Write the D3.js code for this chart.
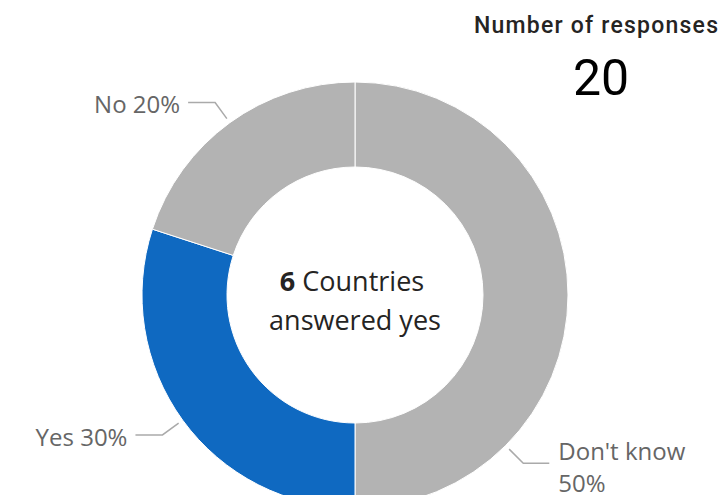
<!DOCTYPE html>
<html>
<head>
<meta charset="utf-8">
<script src="https://cdn.jsdelivr.net/npm/d3@7"></script>
<style>
  html, body { margin: 0; padding: 0; background: #fff; }
  svg { display: block; }
</style>
</head>
<body>
<svg id="chart"></svg>
<script>
// data
const categories = ["Don't know", "Yes", "No"];
const shares = [50, 30, 20];
const sliceColors = ["#b3b3b3", "#0f69c1", "#b3b3b3"];
const totalResponses = 20;
const countriesYes = 6;

const width = 726;
const height = 495;

const svg = d3.select("#chart")
  .attr("width", width)
  .attr("height", height);

// ---- donut ----
const cx = 355, cy = 295;
const outerR = 213, innerR = 128;

const g = svg.append("g").attr("transform", `translate(${cx},${cy})`);

const pie = d3.pie().sort(null).value(d => d.value);
const slices = pie(categories.map((c, i) => ({ name: c, value: shares[i], color: sliceColors[i] })));

const arc = d3.arc().innerRadius(innerR).outerRadius(outerR);

g.selectAll("path.slice")
  .data(slices)
  .join("path")
  .attr("class", "slice")
  .attr("d", arc)
  .attr("fill", d => d.data.color)
  .attr("stroke", "#fff")
  .attr("stroke-width", 1);

// ---- leader lines + labels ----
// the big right slice gets its label pushed down to the lower right
const labelAngle = d => d.data.name === "Don't know" ? Math.PI * 0.75 : (d.startAngle + d.endAngle) / 2;
const pt = (a, r) => [Math.sin(a) * r, -Math.cos(a) * r];

const labelColor = "#666666";
const labelFont = "'Open Sans', 'Noto Sans', sans-serif";

slices.forEach(d => {
  const a = labelAngle(d);
  const p1 = pt(a, 218);
  const p2 = pt(a, 238);
  const right = Math.sin(a) > 0;
  const p3 = [p2[0] + (right ? 26 : -27), p2[1]];

  g.append("polyline")
    .attr("points", [p1, p2, p3].map(p => p.join(",")).join(" "))
    .attr("fill", "none")
    .attr("stroke", "#aaaaaa")
    .attr("stroke-width", 1.5);

  const t = g.append("text")
    .attr("fill", labelColor)
    .attr("font-family", labelFont)
    .attr("font-size", "24px")
    .attr("text-anchor", right ? "start" : "end");

  const pctText = d.data.value + "%";
  if (right) {
    t.attr("x", p3[0] + 9).attr("y", p3[1] - 3);
    t.append("tspan").text(d.data.name);
    t.append("tspan").attr("x", p3[0] + 9).attr("dy", 32).text(pctText);
  } else {
    t.attr("x", p3[0] - 8).attr("y", p3[1] + 11)
      .text(d.data.name + " " + pctText);
  }
});

// ---- centre text ----
const centre = g.append("text")
  .attr("text-anchor", "middle")
  .attr("font-family", labelFont)
  .attr("font-size", "27px")
  .attr("fill", "#252423");

centre.append("tspan")
  .attr("x", -3).attr("y", -4)
  .attr("font-weight", "bold")
  .text(countriesYes);
centre.append("tspan").text(" Countries");
centre.append("tspan")
  .attr("x", 0).attr("y", 35)
  .text("answered yes");

// ---- card: number of responses ----
svg.append("text")
  .attr("x", 474)
  .attr("y", 33)
  .attr("font-family", "Roboto, 'DejaVu Sans', sans-serif")
  .attr("font-weight", 500)
  .attr("font-size", "23px")
  .attr("fill", "#252423")
  .attr("textLength", 244)
  .attr("lengthAdjust", "spacing")
  .text("Number of responses");

svg.append("text")
  .attr("x", 601)
  .attr("y", 95)
  .attr("text-anchor", "middle")
  .attr("font-family", "Roboto, 'DejaVu Sans', sans-serif")
  .attr("font-size", "50px")
  .attr("fill", "#000")
  .text(totalResponses);
</script>
</body>
</html>
